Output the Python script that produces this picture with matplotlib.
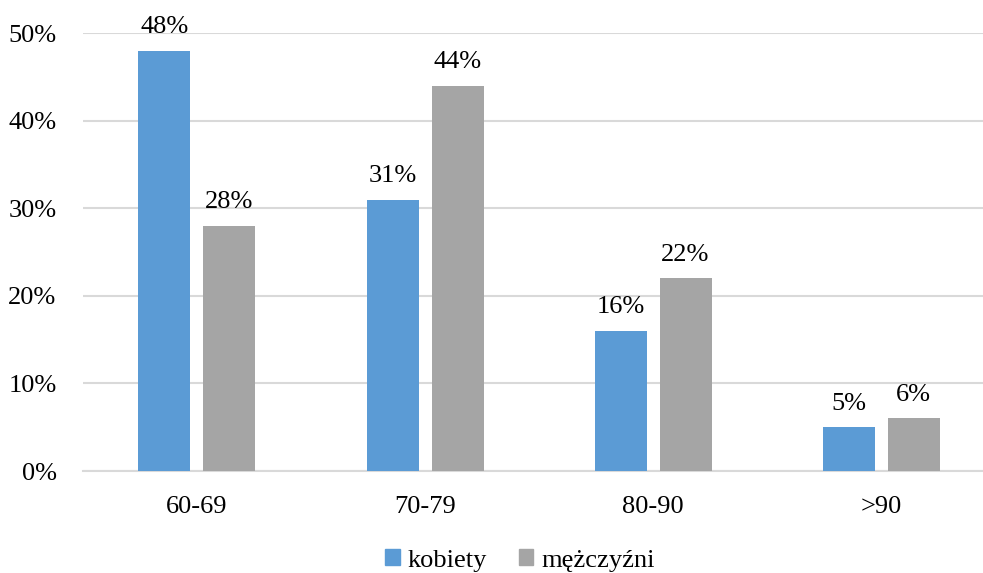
import numpy as np
import matplotlib.pyplot as plt
from matplotlib.patches import Patch

categories = ['60-69', '70-79', '80-90', '>90']
kobiety = [48, 31, 16, 5]
mezczyzni = [28, 44, 22, 6]
series_names = ['kobiety', 'mężczyźni']

plt.rcParams['font.family'] = ['Liberation Serif', 'DejaVu Serif']

blue = '#5b9bd5'
gray = '#a5a5a5'

fig = plt.figure(figsize=(9.83, 5.73), dpi=100)
ax = fig.add_axes([0.0844, 0.178, 0.9156, 0.764])

x = np.arange(len(categories))
w = 0.228
b1 = ax.bar(x - 0.1425, kobiety, w, color=blue, zorder=3)
b2 = ax.bar(x + 0.1425, mezczyzni, w, color=gray, zorder=3)

for bars, vals in [(b1, kobiety), (b2, mezczyzni)]:
    for r, v in zip(bars, vals):
        ax.annotate(f'{v}%', (r.get_x() + r.get_width() / 2, v),
                    xytext=(0, 9), textcoords='offset points',
                    ha='center', va='bottom', fontsize=19)

ax.set_xlim(-0.5, 3.447)
ax.set_ylim(0, 50)
ax.set_yticks(range(0, 51, 10))
ax.set_yticklabels([f'{t}%' for t in range(0, 51, 10)], fontsize=19)
ax.set_xticks(x)
ax.set_xticklabels(categories, fontsize=19)
ax.tick_params(length=0)
ax.tick_params(axis='x', pad=18)
ax.tick_params(axis='y', pad=19)
ax.yaxis.grid(True, color='#d9d9d9', linewidth=1.5, zorder=0)
for s in ['top', 'right', 'left']:
    ax.spines[s].set_visible(False)
ax.spines['bottom'].set_color('#d9d9d9')
ax.spines['bottom'].set_linewidth(1.5)

handles = [Patch(color=blue), Patch(color=gray)]
fig.legend(handles, series_names, loc='center', bbox_to_anchor=(0.529, 0.022),
           ncol=2, frameon=False, fontsize=19, handlelength=0.55, handleheight=0.55,
           handletextpad=0.3, columnspacing=1.2)

fig.savefig('out.png', dpi=100)
